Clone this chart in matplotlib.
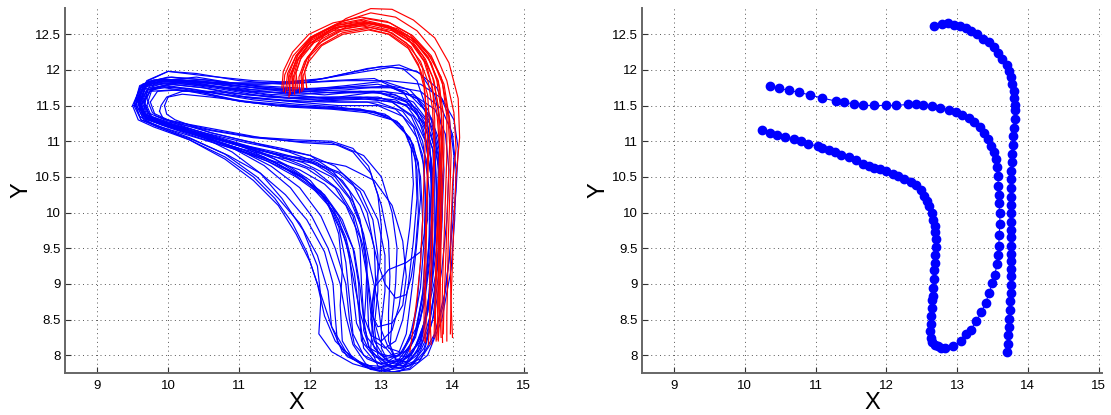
import matplotlib.pyplot as plt

plt.rcParams['font.family'] = ['Liberation Sans', 'DejaVu Sans']

# axis settings
x_ticks = [9, 10, 11, 12, 13, 14, 15]
y_ticks = [8, 8.5, 9, 9.5, 10, 10.5, 11, 11.5, 12, 12.5]
y_tick_labels = ['8', '8.5', '9', '9.5', '10', '10.5', '11', '11.5', '12', '12.5']
x_range = (8.55, 15.05)
y_range = (7.75, 12.87)

# left panel: blue loops (hairpin at left, drop at x~12.7, back up at x~13.7)
blue_01 = [(9.6,11.6),(9.68,11.38),(9.9,11.28),(10.4,11.1),(10.9,10.85),(11.3,10.55),(11.6,10.2),(11.9,9.75),(12.1,9.25),(12.15,8.8),(12.12,8.3),(12.3,8.05),(12.6,7.88),(12.95,7.78),(13.3,7.82),(13.55,8.1),(13.7,8.6),(13.8,9.3),(13.85,10.0),(13.82,10.6),(13.7,11.1),(13.5,11.45),(13.2,11.65),(12.7,11.7),(12.2,11.65),(11.6,11.7),(11.0,11.78),(10.4,11.85),(9.9,11.87),(9.65,11.8),(9.6,11.6)]
blue_02 = [(9.52,11.5),(9.62,11.3),(9.85,11.22),(10.3,11.05),(10.8,10.82),(11.25,10.5),(11.55,10.2),(11.85,9.85),(12.1,9.4),(12.25,8.9),(12.3,8.4),(12.45,8.05),(12.75,7.85),(13.05,7.8),(13.35,7.9),(13.55,8.25),(13.68,8.8),(13.75,9.5),(13.78,10.2),(13.75,10.8),(13.6,11.25),(13.35,11.55),(12.9,11.7),(12.3,11.68),(11.7,11.72),(11.0,11.8),(10.4,11.9),(9.9,11.85),(9.6,11.75),(9.52,11.5)]
blue_03 = [(9.58,11.58),(9.7,11.32),(9.95,11.25),(10.5,11.1),(11.0,10.95),(11.5,10.75),(11.9,10.5),(12.2,10.2),(12.4,9.8),(12.5,9.3),(12.55,8.8),(12.6,8.3),(12.75,8.0),(13.0,7.88),(13.25,7.95),(13.45,8.2),(13.6,8.7),(13.68,9.3),(13.72,9.9),(13.7,10.5),(13.62,11.0),(13.5,11.4),(13.3,11.7),(12.9,11.88),(12.3,11.85),(11.6,11.8),(11.0,11.85),(10.4,11.95),(10.0,11.98),(9.7,11.85),(9.58,11.58)]
blue_04 = [(9.95,11.5),(9.98,11.38),(10.1,11.3),(10.6,11.12),(11.1,11.0),(11.6,10.9),(12.0,10.8),(12.3,10.6),(12.55,10.3),(12.7,9.9),(12.78,9.4),(12.8,8.9),(12.82,8.4),(12.9,8.1),(13.05,7.95),(13.25,8.0),(13.4,8.25),(13.5,8.7),(13.55,9.3),(13.58,9.9),(13.55,10.5),(13.45,10.95),(13.25,11.25),(12.9,11.42),(12.4,11.45),(11.8,11.5),(11.2,11.55),(10.6,11.62),(10.2,11.66),(10.0,11.62),(9.95,11.5)]
blue_05 = [(9.55,11.52),(9.65,11.32),(9.9,11.24),(10.4,11.08),(10.9,10.92),(11.4,10.72),(11.8,10.5),(12.15,10.25),(12.4,9.9),(12.55,9.4),(12.6,8.9),(12.65,8.45),(12.8,8.12),(13.05,7.98),(13.3,8.05),(13.5,8.4),(13.62,9.0),(13.68,9.7),(13.7,10.4),(13.68,11.0),(13.62,11.5),(13.5,11.85),(13.3,12.02),(13.0,12.05),(12.5,11.95),(11.9,11.82),(11.2,11.8),(10.5,11.82),(9.95,11.84),(9.65,11.78),(9.55,11.52)]
blue_06 = [(9.6,11.45),(9.72,11.3),(10.0,11.2),(10.5,11.05),(11.0,10.9),(11.5,10.78),(12.0,10.7),(12.4,10.55),(12.7,10.3),(12.88,9.9),(12.95,9.4),(12.95,8.9),(12.9,8.4),(12.95,8.0),(13.15,7.82),(13.4,7.85),(13.6,8.1),(13.75,8.6),(13.85,9.2),(13.92,9.9),(13.95,10.6),(13.9,11.1),(13.75,11.45),(13.45,11.65),(13.0,11.7),(12.4,11.62),(11.8,11.6),(11.1,11.65),(10.5,11.75),(10.0,11.8),(9.7,11.72),(9.6,11.45)]
blue_07 = [(9.65,11.55),(9.75,11.35),(10.0,11.27),(10.6,11.15),(11.2,11.05),(11.8,11.0),(12.3,10.98),(12.6,10.85),(12.85,10.55),(13.0,10.1),(13.1,9.6),(13.12,9.1),(13.1,8.6),(13.1,8.2),(13.2,7.95),(13.35,7.9),(13.5,8.05),(13.6,8.4),(13.7,9.0),(13.75,9.7),(13.75,10.4),(13.72,10.9),(13.6,11.25),(13.4,11.5),(13.0,11.6),(12.5,11.58),(11.9,11.55),(11.2,11.6),(10.5,11.7),(10.0,11.78),(9.72,11.72),(9.65,11.55)]
blue_08 = [(9.5,11.5),(9.58,11.3),(9.8,11.2),(10.3,11.02),(10.8,10.75),(11.2,10.45),(11.55,10.1),(11.8,9.7),(12.0,9.3),(12.15,8.85),(12.3,8.4),(12.5,8.05),(12.8,7.83),(13.1,7.76),(13.4,7.8),(13.65,8.0),(13.85,8.5),(13.98,9.2),(14.03,9.9),(14.05,10.6),(14.0,11.1),(13.85,11.45),(13.55,11.7),(13.1,11.78),(12.5,11.72),(11.9,11.7),(11.2,11.75),(10.5,11.82),(9.95,11.85),(9.62,11.78),(9.5,11.5)]
blue_09 = [(9.62,11.5),(9.7,11.33),(9.95,11.26),(10.5,11.1),(11.0,10.96),(11.5,10.85),(12.0,10.72),(12.35,10.5),(12.6,10.15),(12.75,9.7),(12.85,9.2),(12.95,8.75),(13.0,8.35),(13.1,8.1),(13.25,8.05),(13.35,8.3),(13.4,8.7),(13.45,9.1),(13.5,9.6),(13.55,10.2),(13.52,10.7),(13.4,11.05),(13.15,11.3),(12.8,11.4),(12.3,11.45),(11.7,11.48),(11.1,11.55),(10.5,11.68),(10.05,11.72),(9.75,11.7),(9.62,11.5)]
blue_10 = [(9.55,11.6),(9.65,11.4),(9.85,11.3),(10.3,11.15),(10.8,11.0),(11.3,10.85),(11.7,10.65),(12.0,10.45),(12.25,10.15),(12.4,9.7),(12.45,9.2),(12.42,8.7),(12.45,8.2),(12.6,7.95),(12.85,7.8),(13.1,7.78),(13.3,7.9),(13.45,8.2),(13.55,8.7),(13.65,9.3),(13.72,10.0),(13.72,10.6),(13.65,11.1),(13.5,11.4),(13.2,11.58),(12.8,11.62),(12.2,11.6),(11.5,11.68),(10.8,11.78),(10.2,11.86),(9.8,11.86),(9.6,11.78),(9.55,11.6)]
blue_11 = [(9.88,11.42),(9.93,11.32),(10.1,11.25),(10.6,11.08),(11.1,10.9),(11.6,10.65),(12.0,10.38),(12.3,10.05),(12.5,9.6),(12.6,9.1),(12.7,8.6),(12.8,8.25),(12.98,8.02),(13.2,7.97),(13.4,8.1),(13.55,8.5),(13.63,9.0),(13.67,9.6),(13.68,10.2),(13.63,10.75),(13.5,11.15),(13.3,11.42),(12.95,11.55),(12.4,11.55),(11.8,11.6),(11.2,11.65),(10.6,11.7),(10.2,11.7),(9.98,11.62),(9.9,11.5),(9.88,11.42)]
blue_12 = [(9.6,11.55),(9.68,11.35),(9.92,11.27),(10.4,11.12),(10.9,10.98),(11.4,10.85),(11.9,10.7),(12.3,10.5),(12.55,10.2),(12.72,9.8),(12.8,9.3),(12.78,8.8),(12.75,8.35),(12.85,8.05),(13.05,7.9),(13.3,7.92),(13.5,8.15),(13.65,8.6),(13.78,9.2),(13.85,9.9),(13.88,10.6),(13.85,11.2),(13.75,11.65),(13.55,11.95),(13.25,12.07),(12.8,12.02),(12.2,11.88),(11.5,11.82),(10.8,11.82),(10.2,11.85),(9.8,11.82),(9.62,11.72),(9.6,11.55)]
blue_13 = [(9.7,11.5),(9.78,11.32),(10.0,11.23),(10.5,11.05),(11.0,10.88),(11.45,10.65),(11.85,10.35),(12.15,9.95),(12.35,9.5),(12.5,9.0),(12.55,8.5),(12.62,8.15),(12.8,7.95),(13.05,7.85),(13.3,7.95),(13.48,8.3),(13.58,8.85),(13.62,9.5),(13.62,10.1),(13.6,10.65),(13.5,11.05),(13.3,11.35),(12.95,11.5),(12.4,11.5),(11.8,11.55),(11.1,11.62),(10.5,11.75),(10.05,11.8),(9.78,11.75),(9.7,11.5)]
blue_14 = [(9.57,11.48),(9.66,11.3),(9.9,11.2),(10.4,11.05),(10.9,10.9),(11.4,10.75),(11.85,10.6),(12.2,10.4),(12.5,10.1),(12.7,9.65),(12.8,9.1),(12.85,8.6),(12.9,8.2),(13.05,7.95),(13.3,7.85),(13.55,7.95),(13.75,8.3),(13.9,8.9),(13.98,9.6),(14.05,10.3),(14.08,10.9),(14.02,11.3),(13.85,11.6),(13.55,11.8),(13.1,11.85),(12.5,11.78),(11.9,11.72),(11.2,11.72),(10.5,11.78),(9.95,11.82),(9.64,11.72),(9.57,11.48)]
blue_15 = [(9.63,11.62),(9.72,11.4),(9.95,11.3),(10.6,11.18),(11.3,11.05),(11.9,10.98),(12.4,10.95),(12.75,10.8),(13.0,10.5),(13.15,10.0),(13.22,9.5),(13.2,9.0),(13.15,8.5),(13.12,8.1),(13.22,7.9),(13.4,7.92),(13.55,8.15),(13.65,8.6),(13.72,9.2),(13.78,9.9),(13.8,10.6),(13.75,11.1),(13.6,11.45),(13.35,11.7),(12.95,11.8),(12.4,11.75),(11.8,11.68),(11.1,11.7),(10.4,11.8),(9.9,11.85),(9.68,11.78),(9.63,11.62)]
blue_16 = [(9.53,11.55),(9.6,11.35),(9.82,11.22),(10.3,11.02),(10.8,10.78),(11.2,10.5),(11.5,10.2),(11.75,9.85),(11.95,9.45),(12.1,9.0),(12.2,8.55),(12.35,8.2),(12.6,7.95),(12.9,7.82),(13.2,7.85),(13.45,8.05),(13.6,8.45),(13.7,9.0),(13.75,9.6),(13.78,10.3),(13.75,10.9),(13.62,11.3),(13.4,11.55),(13.0,11.68),(12.4,11.68),(11.8,11.7),(11.1,11.76),(10.5,11.84),(9.95,11.87),(9.64,11.8),(9.53,11.55)]
blue_17 = [(9.75,11.55),(9.82,11.36),(10.05,11.28),(10.6,11.12),(11.2,10.98),(11.7,10.85),(12.1,10.7),(12.45,10.45),(12.7,10.1),(12.85,9.7),(12.95,9.3),(13.05,9.0),(13.2,8.8),(13.35,8.85),(13.42,9.1),(13.48,9.5),(13.52,10.0),(13.5,10.6),(13.42,11.0),(13.22,11.28),(12.9,11.4),(12.4,11.48),(11.8,11.52),(11.2,11.58),(10.6,11.68),(10.15,11.72),(9.85,11.7),(9.75,11.55)]
blue_18 = [(9.6,11.52),(9.7,11.33),(9.95,11.25),(10.45,11.1),(10.95,10.95),(11.45,10.8),(11.95,10.62),(12.35,10.35),(12.6,9.95),(12.7,9.5),(12.72,9.0),(12.75,8.55),(12.85,8.28),(13.0,8.2),(13.15,8.35),(13.25,8.7),(13.32,9.2),(13.4,9.8),(13.45,10.4),(13.42,10.9),(13.3,11.2),(13.05,11.38),(12.7,11.45),(12.2,11.48),(11.6,11.5),(11.0,11.56),(10.4,11.7),(9.95,11.78),(9.7,11.72),(9.6,11.52)]
blue_19 = [(9.56,11.58),(9.64,11.37),(9.88,11.27),(10.35,11.12),(10.85,10.95),(11.35,10.78),(11.8,10.55),(12.15,10.3),(12.4,9.95),(12.6,9.5),(12.68,9.0),(12.7,8.5),(12.75,8.1),(12.92,7.9),(13.18,7.85),(13.42,8.0),(13.58,8.35),(13.7,8.9),(13.78,9.55),(13.82,10.25),(13.8,10.85),(13.7,11.3),(13.5,11.6),(13.15,11.75),(12.6,11.75),(12.0,11.72),(11.3,11.76),(10.6,11.85),(10.05,11.9),(9.72,11.84),(9.56,11.58)]
blue_20 = [(9.67,11.48),(9.75,11.3),(9.98,11.22),(10.5,11.06),(11.0,10.9),(11.5,10.7),(11.95,10.45),(12.3,10.1),(12.5,9.65),(12.62,9.15),(12.68,8.65),(12.72,8.2),(12.9,7.98),(13.1,7.92),(13.3,8.05),(13.45,8.4),(13.55,8.95),(13.6,9.6),(13.62,10.25),(13.58,10.8),(13.45,11.2),(13.2,11.45),(12.8,11.55),(12.2,11.55),(11.6,11.58),(10.9,11.64),(10.3,11.74),(9.9,11.76),(9.7,11.68),(9.67,11.48)]
blue_21 = [(9.62,11.6),(9.7,11.36),(9.93,11.27),(10.5,11.12),(11.1,10.98),(11.6,10.88),(12.0,10.8),(12.35,10.65),(12.6,10.4),(12.8,10.0),(12.9,9.5),(12.92,9.0),(12.88,8.5),(12.85,8.1),(12.95,7.85),(13.15,7.76),(13.4,7.82),(13.6,8.05),(13.72,8.5),(13.8,9.1),(13.85,9.8),(13.86,10.5),(13.8,11.05),(13.65,11.45),(13.4,11.72),(13.0,11.85),(12.5,11.85),(11.9,11.82),(11.2,11.85),(10.5,11.92),(10.0,11.98),(9.72,11.85),(9.62,11.6)]
blue_22 = [(9.58,11.52),(9.66,11.33),(9.9,11.25),(10.4,11.1),(10.95,10.95),(11.5,10.82),(12.0,10.75),(12.5,10.65),(12.9,10.45),(13.15,10.1),(13.3,9.6),(13.35,9.1),(13.3,8.7),(13.15,8.45),(12.95,8.4),(12.85,8.6),(12.9,8.95),(13.1,9.2),(13.35,9.3),(13.55,9.45),(13.65,9.9),(13.65,10.5),(13.58,11.0),(13.42,11.35),(13.15,11.55),(12.7,11.6),(12.1,11.58),(11.4,11.62),(10.7,11.74),(10.1,11.82),(9.75,11.78),(9.58,11.52)]
blue_23 = [(9.54,11.5),(9.62,11.3),(9.85,11.2),(10.35,11.02),(10.85,10.8),(11.3,10.55),(11.65,10.25),(11.95,9.9),(12.2,9.45),(12.32,9.0),(12.35,8.55),(12.38,8.2),(12.52,7.98),(12.78,7.86),(13.05,7.84),(13.3,7.96),(13.48,8.25),(13.6,8.75),(13.68,9.4),(13.72,10.1),(13.7,10.75),(13.58,11.2),(13.35,11.5),(12.95,11.62),(12.3,11.6),(11.6,11.62),(10.9,11.72),(10.3,11.84),(9.85,11.86),(9.62,11.76),(9.54,11.5)]
blue_24 = [(9.7,11.6),(9.78,11.4),(10.0,11.3),(10.6,11.16),(11.2,11.06),(11.8,11.02),(12.3,11.0),(12.6,10.9),(12.82,10.65),(12.95,10.25),(13.0,9.8),(12.98,9.3),(12.9,8.9),(12.85,8.5),(12.9,8.2),(13.05,8.1),(13.2,8.2),(13.3,8.5),(13.38,9.0),(13.45,9.6),(13.5,10.2),(13.48,10.75),(13.35,11.1),(13.1,11.35),(12.7,11.45),(12.1,11.47),(11.5,11.5),(10.9,11.58),(10.3,11.7),(9.95,11.75),(9.75,11.72),(9.7,11.6)]
blue_25 = [(9.6,11.5),(9.68,11.32),(9.9,11.23),(10.4,11.06),(10.9,10.9),(11.4,10.72),(11.85,10.52),(12.2,10.25),(12.45,9.9),(12.62,9.45),(12.7,8.95),(12.75,8.5),(12.82,8.12),(13.0,7.9),(13.25,7.82),(13.52,7.9),(13.72,8.2),(13.87,8.7),(13.96,9.4),(14.0,10.1),(14.02,10.8),(13.95,11.35),(13.78,11.75),(13.5,11.98),(13.15,12.04),(12.6,11.95),(12.0,11.85),(11.3,11.8),(10.6,11.82),(10.05,11.86),(9.7,11.8),(9.6,11.5)]
blue_26 = [(9.66,11.56),(9.74,11.36),(9.97,11.27),(10.5,11.12),(11.0,10.97),(11.55,10.8),(12.05,10.6),(12.4,10.32),(12.62,9.95),(12.75,9.5),(12.82,9.0),(12.88,8.55),(12.98,8.2),(13.15,8.0),(13.38,7.98),(13.55,8.2),(13.65,8.65),(13.7,9.25),(13.72,9.9),(13.7,10.5),(13.62,11.0),(13.45,11.35),(13.15,11.55),(12.7,11.62),(12.1,11.62),(11.4,11.66),(10.7,11.76),(10.15,11.83),(9.8,11.8),(9.66,11.56)]
blue_27 = [(9.59,11.54),(9.67,11.34),(9.92,11.26),(10.45,11.1),(11.0,10.95),(11.55,10.82),(12.05,10.7),(12.45,10.55),(12.75,10.3),(12.95,9.9),(13.05,9.4),(13.05,8.9),(13.0,8.45),(13.0,8.1),(13.1,7.9),(13.3,7.85),(13.5,8.0),(13.65,8.35),(13.75,8.9),(13.8,9.5),(13.83,10.2),(13.8,10.8),(13.68,11.25),(13.45,11.55),(13.05,11.7),(12.5,11.7),(11.9,11.66),(11.2,11.7),(10.5,11.8),(9.95,11.84),(9.68,11.76),(9.59,11.54)]
blue_28 = [(9.57,11.6),(9.66,11.38),(9.88,11.28),(10.38,11.12),(10.88,10.92),(11.35,10.66),(11.72,10.35),(12.02,9.95),(12.25,9.5),(12.42,9.0),(12.5,8.55),(12.6,8.15),(12.78,7.88),(13.0,7.76),(13.25,7.77),(13.48,7.92),(13.64,8.25),(13.74,8.8),(13.8,9.45),(13.84,10.15),(13.83,10.8),(13.72,11.3),(13.5,11.6),(13.12,11.76),(12.55,11.76),(11.95,11.74),(11.25,11.78),(10.55,11.86),(10.0,11.9),(9.68,11.82),(9.57,11.6)]

# left panel: red arcs (start near 11.8/11.7, over the top, down at x~13.8)
red_01 = [(11.8,11.72),(11.78,11.92),(11.86,12.15),(12.05,12.38),(12.4,12.56),(12.8,12.63),(13.15,12.55),(13.45,12.36),(13.63,12.08),(13.72,11.75),(13.75,11.3),(13.75,10.8),(13.73,10.2),(13.72,9.6),(13.7,9.0),(13.68,8.5),(13.66,8.15)]
red_02 = [(11.65,11.68),(11.68,11.95),(11.8,12.2),(12.0,12.45),(12.35,12.62),(12.75,12.7),(13.1,12.62),(13.42,12.45),(13.65,12.18),(13.8,11.85),(13.87,11.4),(13.88,10.9),(13.86,10.3),(13.84,9.7),(13.83,9.1),(13.82,8.6),(13.8,8.2)]
red_03 = [(11.9,11.75),(11.88,11.95),(11.95,12.15),(12.15,12.35),(12.45,12.52),(12.8,12.58),(13.1,12.5),(13.38,12.3),(13.55,12.0),(13.65,11.65),(13.68,11.2),(13.66,10.7),(13.64,10.1),(13.63,9.5),(13.62,8.9),(13.63,8.5),(13.62,8.18)]
red_04 = [(11.7,11.62),(11.72,11.9),(11.82,12.2),(12.05,12.48),(12.4,12.66),(12.85,12.8),(13.2,12.74),(13.5,12.55),(13.75,12.25),(13.92,11.85),(14.02,11.4),(14.05,10.9),(14.0,10.4),(13.98,9.8),(13.97,9.2),(13.98,8.7),(14.0,8.25)]
red_05 = [(11.75,11.7),(11.74,11.93),(11.84,12.18),(12.02,12.42),(12.38,12.6),(12.78,12.67),(13.12,12.58),(13.4,12.4),(13.6,12.12),(13.7,11.8),(13.78,11.4),(13.82,10.9),(13.8,10.3),(13.78,9.7),(13.76,9.1),(13.75,8.6),(13.74,8.25)]
red_06 = [(11.85,11.68),(11.84,11.9),(11.92,12.12),(12.1,12.36),(12.42,12.54),(12.82,12.6),(13.15,12.52),(13.42,12.32),(13.58,12.02),(13.62,11.6),(13.62,11.1),(13.6,10.5),(13.58,9.9),(13.55,9.3),(13.5,8.8),(13.45,8.4),(13.4,8.05)]
red_07 = [(11.6,11.75),(11.62,11.98),(11.75,12.25),(11.98,12.5),(12.32,12.66),(12.72,12.74),(13.08,12.68),(13.4,12.5),(13.66,12.22),(13.84,11.9),(13.93,11.45),(13.96,10.95),(13.94,10.4),(13.92,9.8),(13.9,9.2),(13.88,8.7),(13.87,8.3)]
red_08 = [(11.95,11.75),(11.92,11.98),(12.0,12.22),(12.2,12.5),(12.5,12.72),(12.85,12.86),(13.15,12.85),(13.45,12.7),(13.75,12.45),(13.95,12.1),(14.08,11.6),(14.1,11.05),(14.05,10.5),(14.02,9.9),(14.0,9.3),(13.98,8.8),(13.97,8.3)]
red_09 = [(11.82,11.74),(11.8,11.96),(11.88,12.2),(12.08,12.43),(12.42,12.6),(12.82,12.65),(13.18,12.57),(13.48,12.38),(13.7,12.1),(13.82,11.75),(13.85,11.3),(13.84,10.75),(13.8,10.15),(13.78,9.55),(13.77,8.95),(13.76,8.55),(13.77,8.2)]
red_10 = [(11.72,11.66),(11.7,11.9),(11.8,12.12),(11.98,12.36),(12.32,12.55),(12.72,12.62),(13.08,12.55),(13.35,12.38),(13.55,12.12),(13.66,11.82),(13.72,11.45),(13.74,10.95),(13.72,10.35),(13.7,9.75),(13.68,9.15),(13.68,8.6),(13.7,8.15)]
red_11 = [(11.88,11.7),(11.87,11.93),(11.96,12.18),(12.18,12.42),(12.5,12.6),(12.88,12.66),(13.22,12.58),(13.5,12.4),(13.72,12.15),(13.86,11.8),(13.92,11.35),(13.92,10.8),(13.9,10.2),(13.88,9.6),(13.86,9.0),(13.85,8.55),(13.86,8.18)]
red_12 = [(11.68,11.72),(11.7,11.95),(11.8,12.2),(12.0,12.44),(12.35,12.62),(12.76,12.68),(13.12,12.6),(13.42,12.42),(13.62,12.15),(13.74,11.85),(13.8,11.45),(13.82,10.95),(13.82,10.4),(13.8,9.8),(13.8,9.2),(13.8,8.65),(13.78,8.22)]
red_13 = [(11.78,11.66),(11.76,11.9),(11.83,12.14),(12.0,12.38),(12.3,12.57),(12.7,12.66),(13.05,12.62),(13.35,12.46),(13.58,12.2),(13.72,11.9),(13.8,11.5),(13.84,11.0),(13.84,10.4),(13.83,9.8),(13.82,9.2),(13.82,8.7),(13.84,8.25)]
red_14 = [(11.62,11.7),(11.64,11.93),(11.76,12.2),(12.0,12.46),(12.36,12.64),(12.78,12.72),(13.12,12.66),(13.44,12.48),(13.7,12.2),(13.88,11.8),(13.96,11.3),(13.98,10.8),(13.96,10.2),(13.94,9.6),(13.93,9.0),(13.92,8.55),(13.92,8.2)]
red_15 = [(11.9,11.72),(11.9,11.92),(11.98,12.12),(12.16,12.34),(12.46,12.5),(12.82,12.56),(13.12,12.5),(13.36,12.34),(13.52,12.08),(13.6,11.75),(13.64,11.35),(13.65,10.85),(13.64,10.3),(13.62,9.7),(13.6,9.1),(13.6,8.6),(13.6,8.2)]
red_16 = [(11.76,11.74),(11.74,11.96),(11.82,12.2),(12.02,12.44),(12.36,12.6),(12.78,12.66),(13.14,12.6),(13.44,12.44),(13.66,12.18),(13.78,11.85),(13.84,11.42),(13.86,10.9),(13.84,10.35),(13.82,9.75),(13.8,9.15),(13.79,8.65),(13.8,8.28)]

blue_tracks = [blue_01, blue_02, blue_03, blue_04, blue_05, blue_06, blue_07, blue_08, blue_09, blue_10,
               blue_11, blue_12, blue_13, blue_14, blue_15, blue_16, blue_17, blue_18, blue_19, blue_20,
               blue_21, blue_22, blue_23, blue_24, blue_25, blue_26, blue_27, blue_28]
red_tracks = [red_01, red_02, red_03, red_04, red_05, red_06, red_07, red_08,
              red_09, red_10, red_11, red_12, red_13, red_14, red_15, red_16]

# right panel: three mean paths, one dot per sample
upper_x = [10.362, 10.486, 10.624, 10.772, 10.925, 11.093, 11.290, 11.399, 11.537, 11.675, 11.833, 11.996, 12.134,
           12.302, 12.420, 12.519, 12.652, 12.766, 12.885, 12.983, 13.077, 13.166, 13.240, 13.319, 13.383, 13.432,
           13.477, 13.516, 13.546, 13.561, 13.575, 13.585, 13.590, 13.590, 13.605, 13.605, 13.595, 13.590, 13.580,
           13.571, 13.531, 13.497, 13.457, 13.403, 13.344, 13.270, 13.195, 13.126, 13.052, 12.949, 12.835]
upper_y = [11.770, 11.742, 11.714, 11.685, 11.648, 11.606, 11.563, 11.549, 11.521, 11.502, 11.502, 11.502, 11.502,
           11.516, 11.526, 11.502, 11.488, 11.469, 11.437, 11.404, 11.366, 11.324, 11.268, 11.197, 11.117, 11.028,
           10.934, 10.845, 10.746, 10.638, 10.512, 10.376, 10.249, 10.136, 9.991, 9.836, 9.681, 9.531, 9.404,
           9.286, 9.131, 9.014, 8.878, 8.737, 8.601, 8.479, 8.357, 8.291, 8.197, 8.127, 8.099]
lower_x = [10.249, 10.352, 10.461, 10.575, 10.693, 10.797, 10.895, 11.034, 11.098, 11.187, 11.280, 11.364, 11.478,
           11.572, 11.665, 11.749, 11.833, 11.907, 11.991, 12.090, 12.169, 12.253, 12.346, 12.420, 12.490, 12.534,
           12.569, 12.608, 12.643, 12.662, 12.682, 12.692, 12.702, 12.697, 12.687, 12.682, 12.677, 12.672, 12.667,
           12.662, 12.652, 12.643, 12.633, 12.628, 12.618, 12.628, 12.652, 12.692, 12.731, 12.776]
lower_y = [11.155, 11.122, 11.094, 11.061, 11.028, 11.000, 10.962, 10.930, 10.906, 10.878, 10.845, 10.812, 10.779,
           10.732, 10.685, 10.653, 10.629, 10.610, 10.582, 10.545, 10.512, 10.469, 10.423, 10.390, 10.310, 10.239,
           10.169, 10.089, 9.995, 9.901, 9.812, 9.723, 9.629, 9.521, 9.408, 9.300, 9.192, 9.070, 8.948,
           8.831, 8.770, 8.657, 8.554, 8.432, 8.338, 8.244, 8.188, 8.150, 8.127, 8.108]
arc_x = [12.677, 12.781, 12.875, 12.963, 13.042, 13.121, 13.200, 13.284, 13.368, 13.447, 13.516, 13.575, 13.640,
         13.699, 13.738, 13.763, 13.778, 13.798, 13.808, 13.817, 13.822, 13.812, 13.803, 13.793, 13.788, 13.778,
         13.773, 13.768, 13.768, 13.768, 13.763, 13.763, 13.763, 13.763, 13.763, 13.763, 13.768, 13.768, 13.768,
         13.768, 13.763, 13.763, 13.758, 13.753, 13.748, 13.738, 13.733, 13.724, 13.719, 13.699]
arc_y = [12.620, 12.648, 12.657, 12.629, 12.610, 12.582, 12.549, 12.507, 12.437, 12.394, 12.319, 12.244, 12.150,
         12.066, 11.981, 11.897, 11.803, 11.709, 11.610, 11.502, 11.432, 11.310, 11.188, 11.070, 10.953, 10.826,
         10.709, 10.587, 10.465, 10.347, 10.225, 10.108, 9.991, 9.873, 9.756, 9.653, 9.535, 9.423, 9.315,
         9.207, 9.108, 8.991, 8.873, 8.756, 8.629, 8.512, 8.394, 8.277, 8.164, 8.052]

fig = plt.figure(figsize=(11.11, 4.15), dpi=100)
ax1 = fig.add_axes([0.0585, 0.101, 0.416, 0.880])
ax2 = fig.add_axes([0.578, 0.101, 0.414, 0.880])

for tr in blue_tracks:
    ax1.plot([p[0] for p in tr], [p[1] for p in tr], color='#0000ff', linewidth=0.85)
for tr in red_tracks:
    ax1.plot([p[0] for p in tr], [p[1] for p in tr], color='#ff0000', linewidth=0.85)

for xs, ys in [(upper_x, upper_y), (lower_x, lower_y), (arc_x, arc_y)]:
    ax2.plot(xs, ys, color='#0000ff', linewidth=0.8, marker='o', markersize=6,
             markerfacecolor='#0000ff', markeredgecolor='#0000ff')

for ax in (ax1, ax2):
    ax.set_xlim(*x_range)
    ax.set_ylim(*y_range)
    ax.set_xticks(x_ticks)
    ax.set_yticks(y_ticks)
    ax.set_yticklabels(y_tick_labels)
    ax.grid(True, color='#555555', linestyle=(0, (1, 3.5)), linewidth=0.7)
    ax.set_axisbelow(True)
    for side in ('top', 'right'):
        ax.spines[side].set_visible(False)
    for side in ('left', 'bottom'):
        ax.spines[side].set_color('#666666')
        ax.spines[side].set_linewidth(1.4)
    ax.tick_params(direction='in', length=4, width=0.8, color='#333333', labelsize=9.5)
    ax.tick_params(axis='x', pad=5)
    ax.tick_params(axis='y', pad=3)
    ax.set_xlabel('X', fontsize=17, labelpad=0)
    ax.set_ylabel('Y', fontsize=17, labelpad=2)

fig.savefig('out.png', dpi=100)
